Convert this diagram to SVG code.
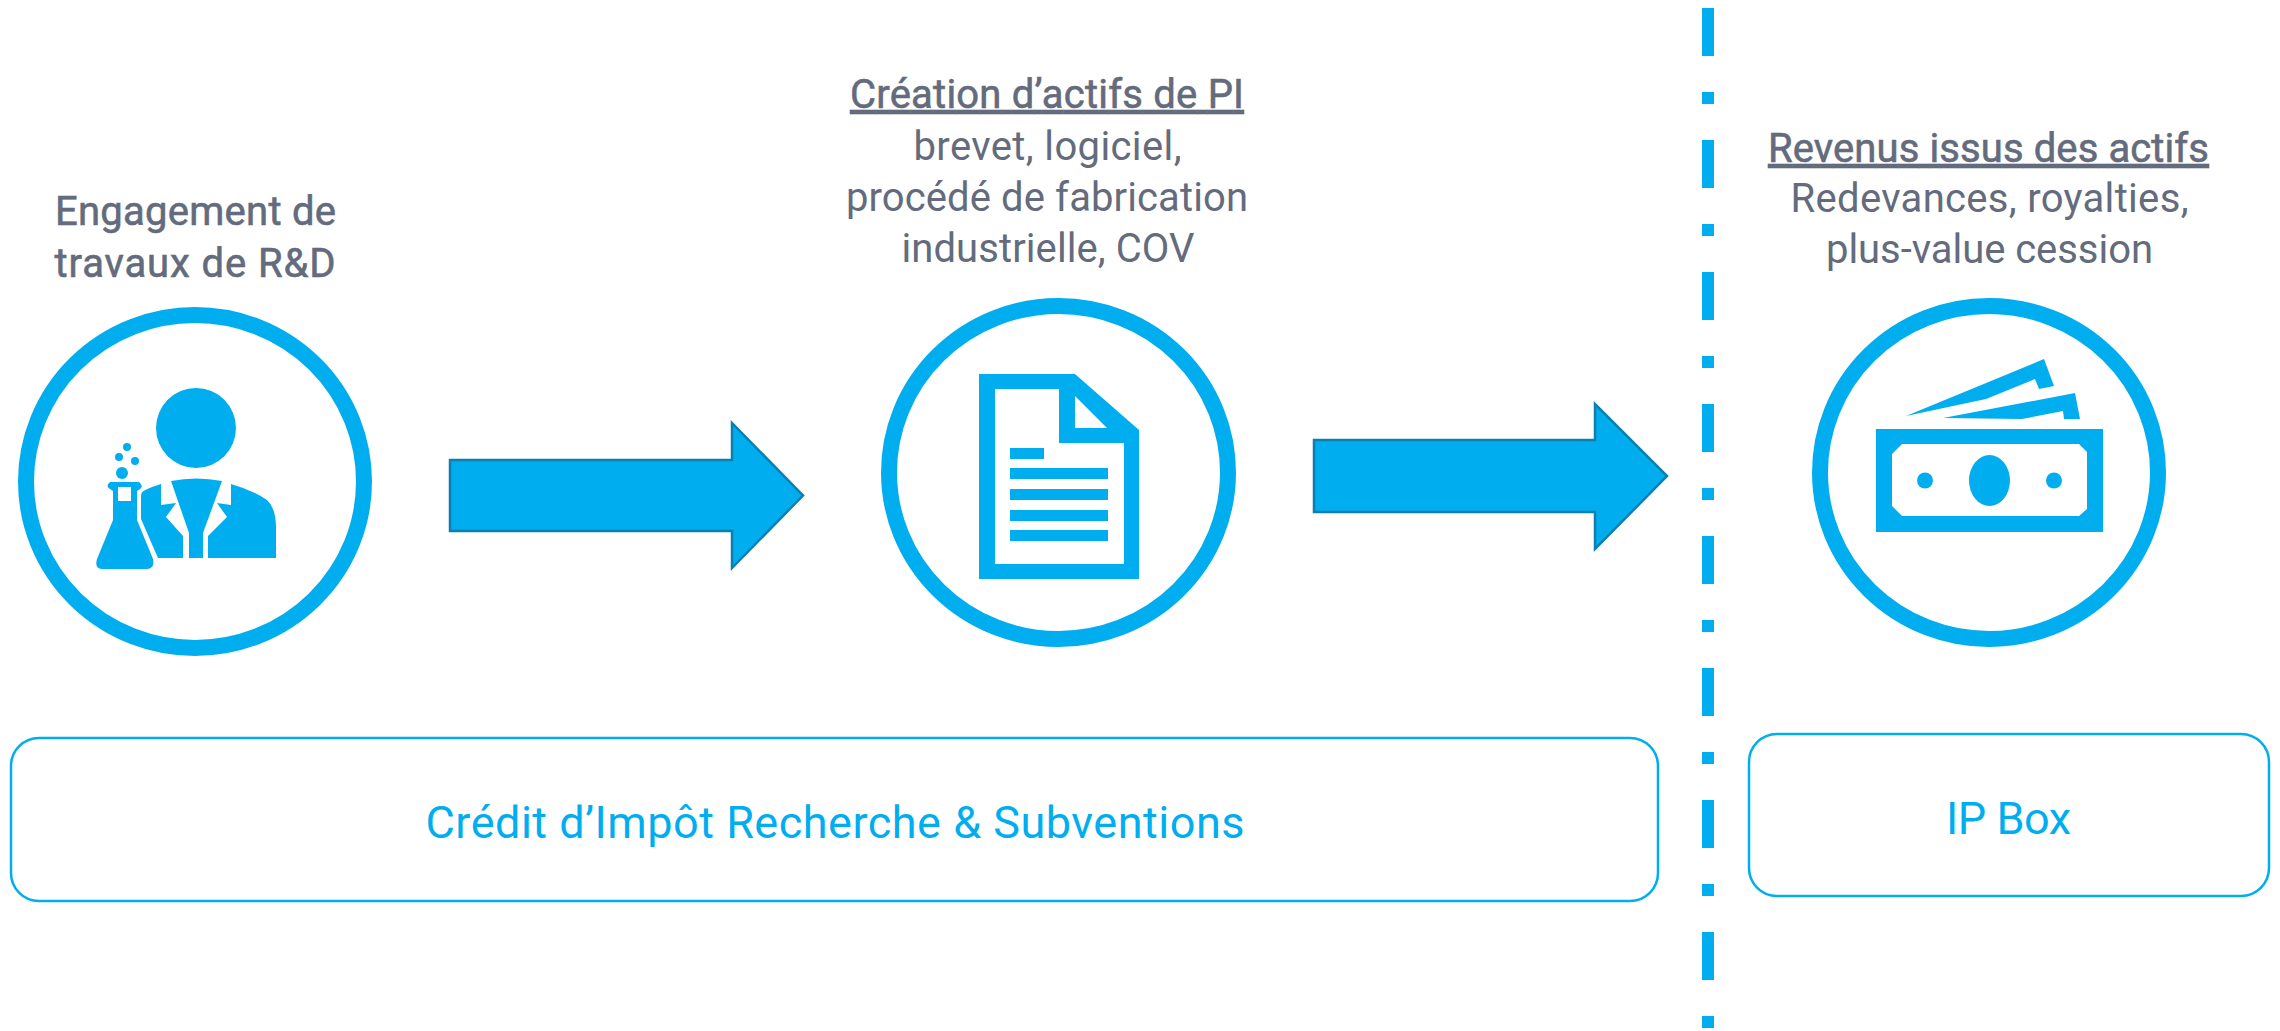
<svg xmlns="http://www.w3.org/2000/svg" width="2280" height="1031" viewBox="0 0 2280 1031">
<style>
text{font-family:"Roboto","Liberation Sans",sans-serif;text-anchor:middle}
.g{fill:#636b7c;font-size:40px}
.t{stroke:#636b7c;stroke-width:.6}
.b{fill:#00aeef;font-size:45px}
.u{text-decoration:underline}
.ring{fill:#fff;stroke:#00aeef;stroke-width:16}
.ic{fill:#00aeef}
.box{fill:#fff;stroke:#00aeef;stroke-width:2.5}
.arr{fill:#00aeef;stroke:#0a7fb0;stroke-width:2.5}
</style>
<rect width="2280" height="1031" fill="#fff"/>
<g id="connectors">
<path class="arr" d="M450 460H732V423L803 495.500 732 568V531H450Z"/>
<path class="arr" d="M1314 440H1595V404L1667 476 1595 549V512H1314Z"/>
</g>
<path id="divider" d="M1708 8V1028" fill="none" stroke="#00aeef" stroke-width="12" stroke-dasharray="48 36 12 36"/>
<g id="node-rd">
<ellipse class="ring" cx="195" cy="481.500" rx="169" ry="166.500"/>
<circle class="ic" cx="196" cy="428" r="40"/>
<path class="ic" d="M171 481Q196 476 222 481L203 533V558H189V533Z"/>
<path class="ic" d="M142 492Q150 487 161 484V505L176 503 166 517 183 536V558H158L141 519V495Z"/>
<path class="ic" d="M231 484Q252 490 267 500Q276 508 276 528V558H208V536L227 517 217 503 231 505Z"/>
<circle class="ic" cx="122" cy="473" r="6"/><circle class="ic" cx="119" cy="457" r="4"/><circle class="ic" cx="135" cy="461" r="4"/><circle class="ic" cx="127" cy="447" r="4"/>
<path class="ic" fill-rule="evenodd" d="M110 482H139Q144 486 140 489L137 491V520L153 559Q155 569 147 569H103Q94 569 97 559L113 520V491L110 489Q105 486 110 482ZM118 487V501H131V487Z"/>
</g>
<g id="node-pi">
<ellipse class="ring" cx="1058.500" cy="472.500" rx="169.500" ry="166.500"/>
<path class="ic" fill-rule="evenodd" d="M979 374H1075L1139 430V579H979ZM995 389V564H1124V443H1059V389ZM1075 396V428H1107Z"/>
<rect class="ic" x="1010" y="448" width="34" height="11"/>
<rect class="ic" x="1010" y="468" width="98" height="11"/>
<rect class="ic" x="1010" y="489" width="98" height="11"/>
<rect class="ic" x="1010" y="510" width="98" height="11"/>
<rect class="ic" x="1010" y="530" width="98" height="11"/>
</g>
<g id="node-rev">
<ellipse class="ring" cx="1989" cy="472.500" rx="169" ry="166.500"/>
<path class="ic" fill-rule="evenodd" d="M1876 429H2103V532H1876ZM1892 454V506L1902 516H2079L2087 509V452L2079 444H1902Z"/>
<ellipse class="ic" cx="1989.500" cy="480.500" rx="20.500" ry="25.500"/>
<circle class="ic" cx="1925" cy="480.500" r="8"/><circle class="ic" cx="2054" cy="480.500" r="8"/>
<path class="ic" d="M1906 416L2044 359 2054 386 2039 389 2035 379 1986 399Z"/>
<path class="ic" d="M1943 418L2075 393 2080 419H2064L2063 411 2022 419Z"/>
</g>
<g id="label-rd">
<text class="g t" x="195.500" y="225" textLength="281">Engagement de</text>
<text class="g t" x="195" y="277" textLength="281">travaux de R&amp;D</text>
</g>
<g id="label-pi">
<text class="g t u" x="1047" y="108" textLength="394">Création d’actifs de PI</text>
<text class="g" x="1047.500" y="160" textLength="268">brevet, logiciel,</text>
<text class="g" x="1047" y="211" textLength="402">procédé de fabrication</text>
<text class="g" x="1048" y="262" textLength="293">industrielle, COV</text>
</g>
<g id="label-rev">
<text class="g t u" x="1988.500" y="162" textLength="441">Revenus issus des actifs</text>
<text class="g" x="1989.500" y="212" textLength="398">Redevances, royalties,</text>
<text class="g" x="1989.500" y="263" textLength="327">plus-value cession</text>
</g>
<g id="box-cir">
<rect class="box" x="11" y="738" width="1647" height="163" rx="28"/>
<text class="b" x="835" y="838" textLength="819">Crédit d’Impôt Recherche &amp; Subventions</text>
</g>
<g id="box-ip">
<rect class="box" x="1749" y="734" width="520" height="162" rx="28"/>
<text class="b" x="2008.500" y="834" textLength="125">IP Box</text>
</g>
</svg>
